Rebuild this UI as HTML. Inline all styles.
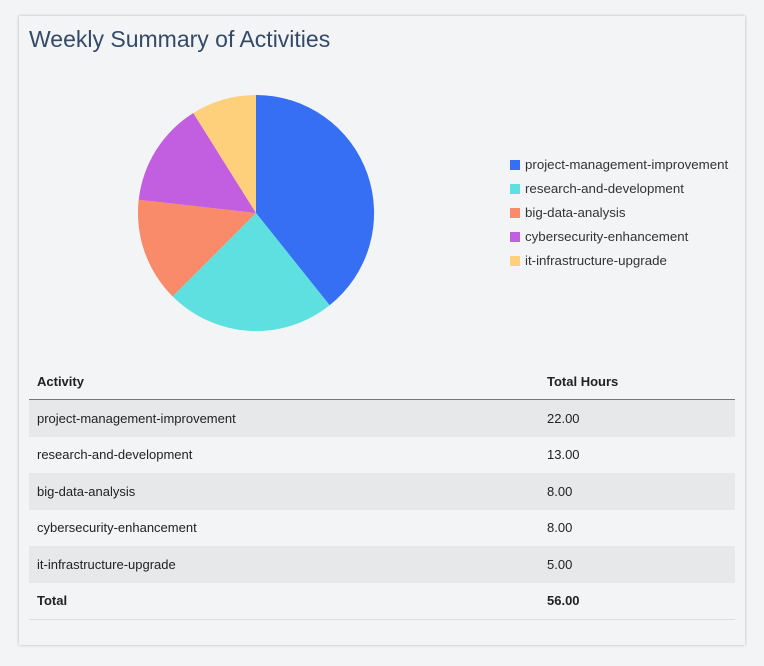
<!DOCTYPE html>
<html><head><style>
body{margin:0;background:#f3f4f6;font-family:"Liberation Sans",sans-serif;width:764px;height:666px;overflow:hidden}
.card{position:absolute;left:19px;top:16px;width:726px;height:629px;background:#f3f4f6;box-shadow:0 0 3px rgba(0,0,0,0.25)}
h1{position:absolute;left:10px;top:10px;margin:0;font-size:23px;font-weight:normal;color:#344a66}
.leg{position:absolute;left:491px;font-size:13.3px;color:#333}
.leg span{display:inline-block;width:10px;height:10px;margin-right:5px;vertical-align:-1px}
table{position:absolute;left:10px;top:348px;width:706px;border-collapse:collapse;font-size:13px;color:#222}
td,th{text-align:left;padding:0 0 0 8px;height:36.5px}
th{border-bottom:1px solid #777;height:35px}
tr.g td{background:#e7e8ea}
td.b{font-weight:bold}
tr:last-child td{border-bottom:1px solid #ddd}
</style></head><body>
<div class="card">
<h1>Weekly Summary of Activities</h1>
<svg style="position:absolute;left:0;top:0" width="726" height="340">
<g transform="translate(-19,-16)">
<path d="M256,213 L256,95 A118,118 0 0 1 329.6,305.3 Z" fill="#366ff4"/>
<path d="M256,213 L329.6,305.3 A118,118 0 0 1 172.6,296.4 Z" fill="#5ee0e0"/>
<path d="M256,213 L172.6,296.4 A118,118 0 0 1 138.7,199.8 Z" fill="#f98a6a"/>
<path d="M256,213 L138.7,199.8 A118,118 0 0 1 193.3,113 Z" fill="#c25fe0"/>
<path d="M256,213 L193.3,113 A118,118 0 0 1 256,95 Z" fill="#fed07c"/>
</g></svg>
<div class="leg" style="top:141px"><span style="background:#366ff4"></span>project-management-improvement</div>
<div class="leg" style="top:165px"><span style="background:#5ee0e0"></span>research-and-development</div>
<div class="leg" style="top:189px"><span style="background:#f98a6a"></span>big-data-analysis</div>
<div class="leg" style="top:213px"><span style="background:#c25fe0"></span>cybersecurity-enhancement</div>
<div class="leg" style="top:237px"><span style="background:#fed07c"></span>it-infrastructure-upgrade</div>
<table>
<tr><th style="width:502px">Activity</th><th>Total Hours</th></tr>
<tr class="g"><td>project-management-improvement</td><td>22.00</td></tr>
<tr><td>research-and-development</td><td>13.00</td></tr>
<tr class="g"><td>big-data-analysis</td><td>8.00</td></tr>
<tr><td>cybersecurity-enhancement</td><td>8.00</td></tr>
<tr class="g"><td>it-infrastructure-upgrade</td><td>5.00</td></tr>
<tr><td class="b">Total</td><td class="b">56.00</td></tr>
</table>
</div>
</body></html>
